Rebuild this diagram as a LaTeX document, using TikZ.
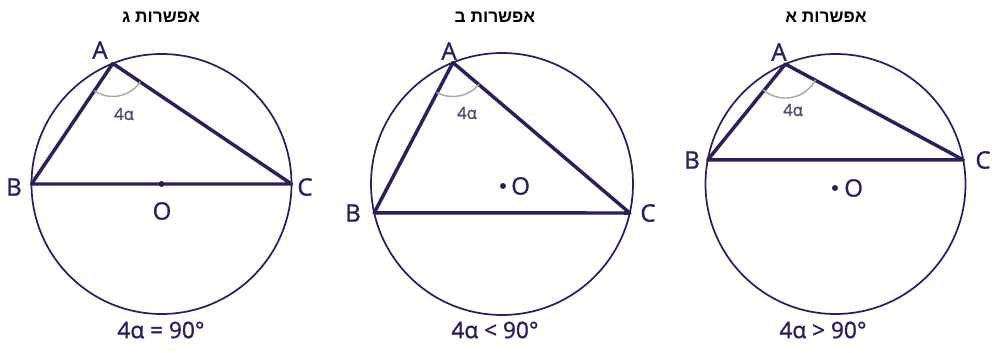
\documentclass[tikz,border=0pt]{standalone}
\usepackage{fontspec}
\setmainfont{Open Sans}
\newfontfamily\medfont{Open Sans}[FakeBold=1.3]
\newfontfamily\hebfont[Script=Hebrew]{Liberation Sans}
\TeXXeTstate=1
\usetikzlibrary{calc}
\definecolor{navy}{HTML}{2B1F5C}
\definecolor{arcgray}{HTML}{A8A8A8}
\definecolor{lblgray}{HTML}{4E4872}
\tikzset{
  circ/.style={draw=navy, line width=1.3pt},
  tri/.style={draw=navy, line width=2.6pt, line join=round, line cap=round},
  anglearc/.style={draw=arcgray, line width=1.1pt},
  ptlabel/.style={text=navy, font=\medfont\fontsize{18}{20}\selectfont, inner sep=0pt},
  anglelabel/.style={text=lblgray, font=\medfont\fontsize{12.5}{14}\selectfont, inner sep=0pt},
  bottomtext/.style={text=navy, font=\medfont\fontsize{17}{19}\selectfont, inner sep=0pt},
  titletext/.style={text=black, font=\hebfont\bfseries\fontsize{13}{15}\selectfont, inner sep=0pt},
  dotstyle/.style={circle, fill=navy, inner sep=0pt, minimum size=4.5pt}
}
\begin{document}
\begin{tikzpicture}[x=0.75pt, y=-0.75pt]
\useasboundingbox (0,0) rectangle (992,353);
% ---------- Panel 1 (left) ----------
\coordinate (O1) at (161.5,184);
\draw[circ] (O1) circle[radius=130];
\coordinate (A1) at ($(O1)+(248:130)$);
\coordinate (B1) at ($(O1)+(180:130)$);
\coordinate (C1) at ($(O1)+(0:130)$);
\draw[tri] (A1) -- (B1) -- (C1) -- cycle;
\draw[anglearc] (A1) ++(124.5:33) arc[start angle=124.5, end angle=33.5, radius=33];
\node[dotstyle] (d1) at (O1) {};
\node[ptlabel] (lO1) at (162,211) {O};
\node[ptlabel] (lA1) at (100,50) {A};
\node[ptlabel] (lB1) at (14,187) {B};
\node[ptlabel] (lC1) at (305,187) {C};
\node[anglelabel] (al1) at (124,114) {4α};
\node[bottomtext] (bt1) at (161,330) {4α = 90°};
\node[titletext] (t1) at (161,17) {\beginR אפשרות ג\endR};
% ---------- Panel 2 (middle) ----------
\coordinate (O2) at (502,184);
\draw[circ] (O2) circle[radius=131];
\coordinate (A2) at ($(O2)+(248:131)$);
\coordinate (B2) at ($(O2)+(167.3:131)$);
\coordinate (C2) at ($(O2)+(12.8:131)$);
\draw[tri] (A2) -- (B2) -- (C2) -- cycle;
\draw[anglearc] (A2) ++(118.5:34) arc[start angle=118.5, end angle=39.5, radius=34];
\node[dotstyle] (d2) at (503,186) {};
\node[ptlabel, anchor=west] (lO2) at (511,186) {O};
\node[ptlabel] (lA2) at (449,51) {A};
\node[ptlabel] (lB2) at (353,213) {B};
\node[ptlabel] (lC2) at (648,213) {C};
\node[anglelabel] (al2) at (467,113) {4α};
\node[bottomtext] (bt2) at (495,330) {4α < 90°};
\node[titletext] (t2) at (495,17) {\beginR אפשרות ב\endR};
% ---------- Panel 3 (right) ----------
\coordinate (O3) at (835.5,184);
\draw[circ] (O3) circle[radius=130];
\coordinate (A3) at ($(O3)+(247.3:130)$);
\coordinate (B3) at ($(O3)+(190.7:130)$);
\coordinate (C3) at ($(O3)+(-10.7:130)$);
\draw[tri] (A3) -- (B3) -- (C3) -- cycle;
\draw[anglearc] (A3) ++(130.5:34) arc[start angle=130.5, end angle=27.5, radius=34];
\node[dotstyle] (d3) at (835,188) {};
\node[ptlabel, anchor=west] (lO3) at (844,188) {O};
\node[ptlabel] (lA3) at (779,52) {A};
\node[ptlabel] (lB3) at (692,160) {B};
\node[ptlabel] (lC3) at (983,160) {C};
\node[anglelabel] (al3) at (793,110) {4α};
\node[bottomtext] (bt3) at (823,330) {4α > 90°};
\node[titletext] (t3) at (826,17) {\beginR אפשרות א\endR};
\end{tikzpicture}
\end{document}
